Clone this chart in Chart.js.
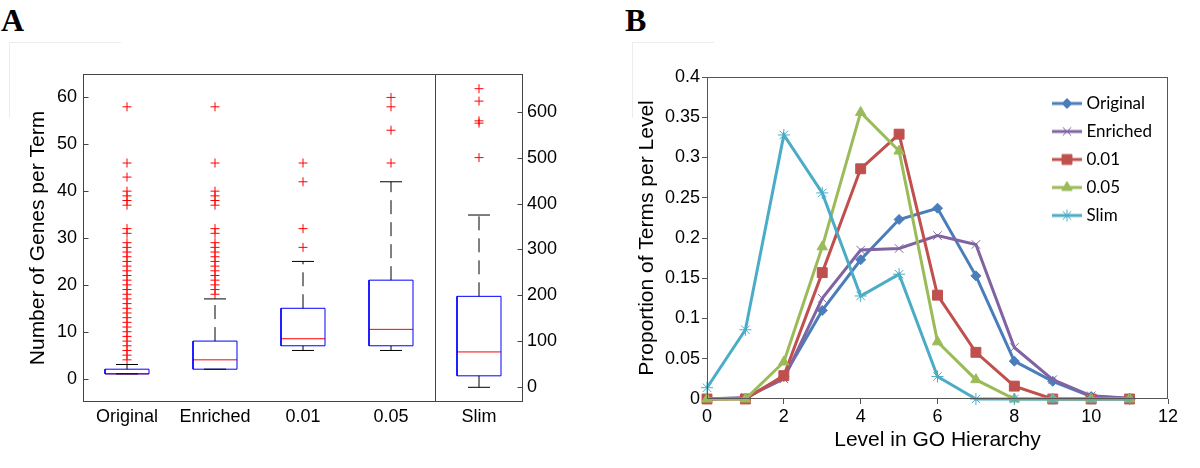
<!DOCTYPE html>
<html>
<head>
<meta charset="utf-8">
<script src="https://cdn.jsdelivr.net/npm/chart.js"></script>
<style>
  body { margin: 0; background: #fff; width: 1200px; height: 468px; position: relative; overflow: hidden; }
  .panel { position: absolute; top: 0; width: 600px; height: 468px; }
  .tag { position: absolute; top: 4px; font: bold 32px "Liberation Serif", "DejaVu Serif", serif; line-height: 32px; color: #000; }
  .ghost { position: absolute; border-left: 1px solid #ececec; border-top: 1px solid #ececec; }
</style>
</head>
<body>
<div class="ghost" style="left:9px;top:42px;width:111px;height:75px"></div>
<div class="ghost" style="left:632px;top:42px;width:81px;height:75px"></div>
<div class="tag" style="left:1px">A</div>
<div class="tag" style="left:625px">B</div>
<div class="panel" style="left:0"><canvas id="boxA" width="600" height="468"></canvas></div>
<div class="panel" style="left:600px"><canvas id="lineB" width="600" height="468"></canvas></div>
<script>
// ---------- panel A : genes per term (box plot) ----------
const groups    = ['Original', 'Enriched', '0.01', '0.05', 'Slim'];
const boxLow    = [1, 2, 7, 7, 25];        // 25th percentile
const boxMed    = [1, 4, 8.5, 10.5, 77];   // median
const boxHigh   = [2, 8, 15, 21, 198];     // 75th percentile
const whiskLow  = [1, 2, 6, 6, 0];
const whiskHigh = [3, 17, 25, 42, 375];
const outOriginal = [4, 5, 6, 7, 8, 9, 10, 11, 12, 13, 14, 15, 16, 17, 18, 19, 20, 21, 22, 23, 24, 25, 26, 27, 28, 29, 31, 32, 37, 38, 39, 40, 43, 46, 58];
const outEnriched = [18, 19, 20, 21, 22, 23, 24, 25, 26, 27, 28, 29, 31, 32, 37, 38, 39, 40, 46, 58];
const out001  = [28, 32, 42, 46];
const out005  = [46, 53, 58, 60];
const outSlim = [500, 575, 580, 623, 650];   // Slim uses the right axis
const outliers = [outOriginal, outEnriched, out001, out005, outSlim];
const leftTicks  = [0, 10, 20, 30, 40, 50, 60];
const rightTicks = [0, 100, 200, 300, 400, 500, 600];

// ---------- panel B : proportion of terms per level ----------
const levels = [0, 1, 2, 3, 4, 5, 6, 7, 8, 9, 10, 11];
const propOriginal = [0, 0.001, 0.028, 0.110, 0.173, 0.223, 0.237, 0.153, 0.047, 0.022, 0.003, 0.001];
const propEnriched = [0, 0.002, 0.025, 0.125, 0.185, 0.187, 0.203, 0.192, 0.064, 0.024, 0.004, 0.001];
const prop001 = [0, 0, 0.029, 0.157, 0.286, 0.329, 0.129, 0.058, 0.016, 0, 0, 0];
const prop005 = [0, 0, 0.046, 0.189, 0.356, 0.308, 0.071, 0.024, 0, 0, 0, 0];
const propSlim = [0.014, 0.086, 0.328, 0.256, 0.128, 0.155, 0.028, 0, 0, 0, 0, 0];
const seriesNames = ['Original', 'Enriched', '0.01', '0.05', 'Slim'];
const seriesData  = [propOriginal, propEnriched, prop001, prop005, propSlim];

// styles
const seriesColors  = ['#4a7ebb', '#8064a2', '#c0504d', '#9bbb59', '#4bacc6'];
const seriesMarkers = ['rectRot', 'crossRot', 'rect', 'triangle', 'star'];
const markerRadius  = [5, 6, 7, 6, 6];

Chart.defaults.font.family = '"Liberation Sans", Arial, sans-serif';
Chart.defaults.color = '#000';

// frame round the plot area, plus divider and inward ticks for the box plot
const framePlugin = {
    id: 'frame',
    afterDraw(chart, args, opts) {
        const ctx = chart.ctx;
        const a = chart.chartArea;
        const L = Math.round(a.left) + 0.5, R = Math.round(a.right) - 0.5;
        const T = Math.round(a.top) + 0.5, B = Math.round(a.bottom) - 0.5;
        ctx.save();
        ctx.strokeStyle = opts.color || '#444';
        ctx.lineWidth = 1;
        ctx.strokeRect(L, T, R - L, B - T);
        if (opts.inward) {
            ctx.beginPath();
            const y = chart.scales.y, y2 = chart.scales.y2;
            y.ticks.forEach(t => { const p = Math.round(y.getPixelForValue(t.value)) + 0.5; ctx.moveTo(L, p); ctx.lineTo(L + 5, p); });
            y2.ticks.forEach(t => { const p = Math.round(y2.getPixelForValue(t.value)) + 0.5; ctx.moveTo(R, p); ctx.lineTo(R - 5, p); });
            const d = Math.round(chart.scales.x.getPixelForValue(4.5)) + 0.5;
            ctx.moveTo(d, T); ctx.lineTo(d, B);
            ctx.stroke();
        }
        ctx.restore();
    }
};

function seg(points, color, axis, dash) {
    return {
        type: 'line',
        data: points.map(p => ({ x: p[0], y: p[1] })),
        borderColor: color, borderWidth: 1, borderDash: dash || [],
        pointRadius: 0, fill: false, tension: 0, yAxisID: axis
    };
}

const boxSets = [];
groups.forEach((g, i) => {
    const x = i + 1;
    const axis = g === 'Slim' ? 'y2' : 'y';
    const w = 0.25, c = 0.125;
    boxSets.push(
        seg([[x, boxHigh[i]], [x, whiskHigh[i]]], '#000', axis, [14, 8]),
        seg([[x, boxLow[i]], [x, whiskLow[i]]], '#000', axis, [14, 8]),
        seg([[x - c, whiskHigh[i]], [x + c, whiskHigh[i]]], '#000', axis),
        seg([[x - c, whiskLow[i]], [x + c, whiskLow[i]]], '#000', axis),
        seg([[x - w, boxLow[i]], [x + w, boxLow[i]], [x + w, boxHigh[i]], [x - w, boxHigh[i]], [x - w, boxLow[i]]], '#0000ff', axis),
        seg([[x - w, boxMed[i]], [x + w, boxMed[i]]], '#ff0000', axis),
        {
            type: 'scatter',
            data: outliers[i].map(v => ({ x: x, y: v })),
            yAxisID: axis, pointStyle: 'cross', pointRadius: 4.5,
            borderColor: '#ff0000', backgroundColor: '#ff0000', borderWidth: 1
        }
    );
});

const tickFont = { size: 18 };

new Chart(document.getElementById('boxA'), {
    type: 'line',
    data: { datasets: boxSets },
    options: {
        responsive: false, animation: false,
        layout: { padding: { left: 20, top: 74, right: 20, bottom: 10 } },
        plugins: { legend: { display: false }, tooltip: { enabled: false }, frame: { color: '#444', inward: true } },
        scales: {
            x: {
                type: 'linear', min: 0.5, max: 5.5,
                grid: { display: false, drawTicks: false }, border: { display: false },
                afterBuildTicks: s => { s.ticks = groups.map((g, i) => ({ value: i + 1 })); },
                ticks: { callback: v => groups[v - 1], font: tickFont, padding: 4, maxRotation: 0, autoSkip: false },
                afterFit: s => { s.height = 56; }
            },
            y: {
                type: 'linear', position: 'left', min: -5, max: 65,
                grid: { display: false, drawTicks: false }, border: { display: false },
                afterBuildTicks: s => { s.ticks = leftTicks.map(v => ({ value: v })); },
                ticks: { font: tickFont, padding: 6 },
                title: { display: true, text: 'Number of Genes per Term', font: { size: 21 }, padding: { top: 6, bottom: 0 } },
                afterFit: s => { s.width = 63; }
            },
            y2: {
                type: 'linear', position: 'right', min: -32, max: 682,
                grid: { display: false, drawTicks: false }, border: { display: false },
                afterBuildTicks: s => { s.ticks = rightTicks.map(v => ({ value: v })); },
                ticks: { font: tickFont, padding: 4 },
                afterFit: s => { s.width = 57; }
            }
        }
    },
    plugins: [framePlugin]
});

// legend swatch: short thick line with the marker on it
function legendIcon(i) {
    const c = document.createElement('canvas');
    c.width = 30; c.height = 18;
    const g = c.getContext('2d');
    g.strokeStyle = seriesColors[i]; g.fillStyle = seriesColors[i];
    g.lineWidth = 3;
    g.beginPath(); g.moveTo(0, 9); g.lineTo(30, 9); g.stroke();
    g.lineWidth = 1;
    if (Chart.helpers && Chart.helpers.drawPoint) {
        Chart.helpers.drawPoint(g, { pointStyle: seriesMarkers[i], radius: markerRadius[i], rotation: 0, borderWidth: 1 }, 15, 9);
    }
    return c;
}

const legendSpot = {
    id: 'legendSpot',
    afterLayout(chart) {
        const lg = chart.legend;
        const w = lg.width, h = lg.height;
        lg.left = 445; lg.top = 84;
        lg.right = lg.left + w; lg.bottom = lg.top + h;
    }
};

const lineSets = seriesNames.map((name, i) => ({
    label: name,
    data: levels.map((lv, k) => ({ x: lv, y: seriesData[i][k] })),
    borderColor: seriesColors[i], backgroundColor: seriesColors[i],
    borderWidth: 3, tension: 0, fill: false, clip: false,
    pointStyle: seriesMarkers[i], pointRadius: markerRadius[i],
    pointBackgroundColor: seriesColors[i], pointBorderColor: seriesColors[i], pointBorderWidth: 1,
    order: seriesNames.length - i
}));

const axisGrid = { drawOnChartArea: false, drawTicks: true, tickLength: 5, color: '#555' };

new Chart(document.getElementById('lineB'), {
    type: 'line',
    data: { datasets: lineSets },
    options: {
        responsive: false, animation: false,
        layout: { padding: { left: 20, top: 77, right: 32, bottom: 10 } },
        plugins: {
            tooltip: { enabled: false },
            frame: { color: '#555' },
            legend: {
                display: true, position: 'chartArea', align: 'start',
                labels: {
                    usePointStyle: true, pointStyleWidth: 22, boxHeight: 17, padding: 11,
                    color: '#000', font: { family: 'Lato, "Open Sans", sans-serif', size: 17 },
                    generateLabels: chart => chart.data.datasets.map((ds, i) => ({
                        text: ds.label, pointStyle: legendIcon(i), datasetIndex: i,
                        fillStyle: 'transparent', strokeStyle: 'transparent', lineWidth: 0, hidden: false, fontColor: '#000'
                    }))
                }
            }
        },
        scales: {
            x: {
                type: 'linear', min: 0, max: 12,
                grid: axisGrid, border: { display: false },
                ticks: { stepSize: 2, font: tickFont, padding: 2, callback: v => String(v) },
                title: { display: true, text: 'Level in GO Hierarchy', font: { size: 21 }, padding: { top: 0, bottom: 5 } },
                afterFit: s => { s.height = 59; }
            },
            y: {
                type: 'linear', min: 0, max: 0.4,
                grid: axisGrid, border: { display: false },
                ticks: { stepSize: 0.05, font: tickFont, padding: 2, callback: v => String(+v.toFixed(2)) },
                title: { display: true, text: 'Proportion of Terms per Level', font: { size: 21 }, padding: { top: 15, bottom: 0 } },
                afterFit: s => { s.width = 87; }
            }
        }
    },
    plugins: [framePlugin, legendSpot]
});
</script>
</body>
</html>
